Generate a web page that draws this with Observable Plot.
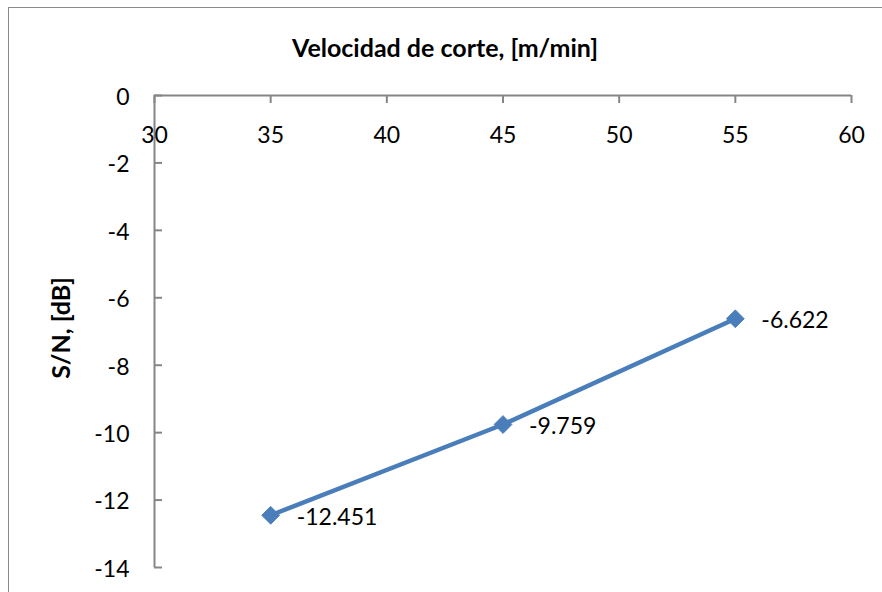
<!DOCTYPE html>
<html>
<head>
<meta charset="utf-8">
<script src="https://cdn.jsdelivr.net/npm/d3@7"></script>
<script src="https://cdn.jsdelivr.net/npm/@observablehq/plot@0.6"></script>
<style>
  html, body { margin: 0; padding: 0; background: #fff; }
  #wrap { position: relative; width: 882px; height: 592px; overflow: hidden; background: #fff; }
  #border { position: absolute; left: 8px; top: 7px; width: 1200px; height: 1200px;
            border-left: 1.5px solid #8a8a8a; border-top: 1.5px solid #8a8a8a; box-sizing: border-box; }
  #chart { position: absolute; left: 0; top: 0; }
</style>
</head>
<body>
<div id="wrap"><div id="border"></div><div id="chart"></div></div>
<script>
// Data
const velocidad = [35, 45, 55];
const sn = [-12.451, -9.759, -6.622];
const xTicks = [30, 35, 40, 45, 50, 55, 60];
const yTicks = [0, -2, -4, -6, -8, -10, -12, -14];
const titleText = "Velocidad de corte, [m/min]";
const yLabelText = "S/N, [dB]";

const data = velocidad.map((v, i) => ({x: v, y: sn[i]}));

const W = 882, H = 592;
const mL = 154, mR = 31, mT = 95, mB = 25;
const plotW = W - mL - mR, plotH = H - mT - mB;
const axisColor = "#868686";
const blue = "#4A7EBB";
const font = "Lato, 'Open Sans', sans-serif";

const chart = Plot.plot({
  width: W, height: H,
  marginLeft: mL, marginRight: mR, marginTop: mT, marginBottom: mB,
  style: {fontFamily: font, background: "transparent", overflow: "visible"},
  x: {domain: [30, 60], axis: null},
  y: {domain: [-14, 0], axis: null},
  marks: [
    Plot.ruleY([0], {stroke: axisColor, strokeWidth: 2}),
    Plot.ruleX([30], {stroke: axisColor, strokeWidth: 2}),
    Plot.tickX(xTicks, {x: d => d, stroke: axisColor, strokeWidth: 2, insetBottom: plotH - 8}),
    Plot.tickY(yTicks, {y: d => d, stroke: axisColor, strokeWidth: 2, insetRight: plotW - 8}),
    Plot.text(xTicks, {x: d => d, frameAnchor: "top", lineAnchor: "middle", dy: 40, text: d => String(d), fontSize: 23, fill: "#000"}),
    Plot.text(yTicks, {y: d => d, frameAnchor: "left", lineAnchor: "middle", dx: -25, dy: 2, textAnchor: "end", text: d => String(d), fontSize: 23, fill: "#000"}),
    Plot.line(data, {x: "x", y: "y", stroke: blue, strokeWidth: 4.5, strokeLinejoin: "round"}),
    Plot.dot(data, {x: "x", y: "y", symbol: "diamond2", r: 8, fill: blue, stroke: blue, strokeWidth: 1}),
    Plot.text(data, {x: "x", y: "y", text: d => d.y.toFixed(3), dx: 26, dy: 2, textAnchor: "start", lineAnchor: "middle", fontSize: 23, fill: "#000"}),
    Plot.text([titleText], {frameAnchor: "top", lineAnchor: "middle", textAnchor: "middle", dx: -58, dy: -47, text: d => d, fontSize: 25, fontWeight: "bold", fill: "#000", letterSpacing: "0.7px"}),
    Plot.text([yLabelText], {frameAnchor: "left", lineAnchor: "middle", textAnchor: "middle", dx: -93, dy: -3.5, rotate: -90, text: d => d, fontSize: 25, fontWeight: "bold", fill: "#000"})
  ]
});
document.getElementById("chart").appendChild(chart);
</script>
</body>
</html>
